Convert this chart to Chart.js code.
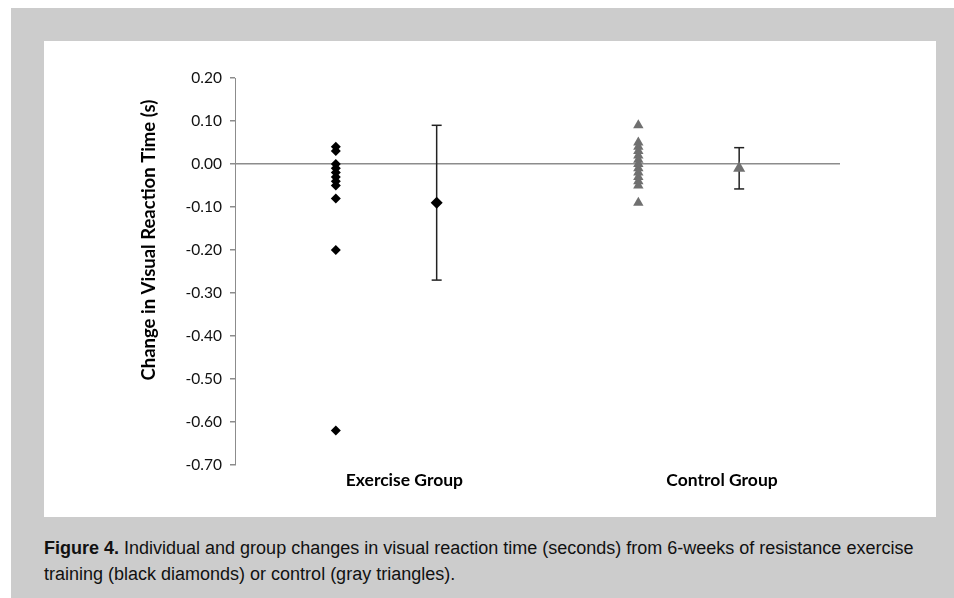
<!DOCTYPE html>
<html>
<head>
<meta charset="utf-8">
<script src="https://cdn.jsdelivr.net/npm/chart.js@4/dist/chart.umd.min.js"></script>
<style>
  html, body { margin: 0; padding: 0; background: #fff; }
  body { width: 954px; height: 598px; position: relative; overflow: hidden; }
  #frame { position: absolute; left: 11px; top: 8px; width: 943px; height: 590px; background: #cccccc; }
  #panel { position: absolute; left: 44px; top: 41px; width: 892px; height: 476px; background: #fff; }
  #grafico { position: absolute; left: 0; top: 0; }
  #legenda {
    position: absolute; left: 44px; top: 535px; width: 905px;
    font-family: "Liberation Sans", Arial, sans-serif;
    font-size: 18px; line-height: 26px; color: #111; white-space: nowrap;
  }
  #legenda b { font-weight: bold; }
</style>
</head>
<body>
<div id="frame"></div>
<div id="panel"><canvas id="grafico" width="892" height="476"></canvas></div>
<div id="legenda"><b>Figure 4.</b> Individual and group changes in visual reaction time (seconds) from 6-weeks of resistance exercise<br>training (black diamonds) or control (gray triangles).</div>
<script>
// valores
const grupos = ['Exercise Group', 'Control Group'];
const posGrupos = [1.68, 4.83];
const xIndividual = [1, 4];
const xMedia = [2, 5];

const exercicio = [0.04, 0.03, 0.00, -0.01, -0.02, -0.03, -0.04, -0.05, -0.08, -0.20, -0.62];
const controle = [0.09, 0.05, 0.04, 0.03, 0.02, 0.01, 0.00, -0.01, -0.02, -0.03, -0.04, -0.05, -0.09];

const medias = [-0.09, -0.01];
const desvios = [0.18, 0.048];

const yTicks = [0.20, 0.10, 0.00, -0.10, -0.20, -0.30, -0.40, -0.50, -0.60, -0.70];
const tituloY = 'Change in Visual Reaction Time (s)';
const tituloYCentro = -0.177; // o título não está centrado no eixo no original

const fonte = 'Lato, "Open Sans", sans-serif';

function pontos(x, vals) {
  return vals.map(v => ({ x, y: v }));
}

function barraErro(i, cor) {
  return {
    type: 'scatter',
    data: [{ x: xMedia[i], y: medias[i] + desvios[i] }, { x: xMedia[i], y: medias[i] - desvios[i] }],
    showLine: true,
    borderColor: cor,
    borderWidth: 1.5,
    pointStyle: 'line',
    pointRadius: 5,
    pointBorderColor: cor,
    pointBorderWidth: 1.5,
    order: 10,
  };
}

// desenha o título do eixo y na posição do original
const pluginTituloY = {
  id: 'tituloY',
  afterDraw(chart) {
    const y = chart.scales.y;
    const ctx = chart.ctx;
    ctx.save();
    ctx.translate(y.left + 14, y.getPixelForValue(tituloYCentro));
    ctx.rotate(-Math.PI / 2);
    ctx.font = `bold 18.5px ${fonte}`;
    ctx.fillStyle = '#000';
    ctx.textAlign = 'center';
    ctx.textBaseline = 'middle';
    ctx.fillText(tituloY, 0, 0);
    ctx.restore();
  },
};

new Chart(document.getElementById('grafico').getContext('2d'), {
  type: 'scatter',
  data: {
    datasets: [
      {
        label: 'Exercise',
        data: pontos(xIndividual[0], exercicio),
        pointStyle: 'rectRot',
        pointRadius: 5,
        backgroundColor: '#000',
        borderColor: '#000',
        borderWidth: 0,
        order: 1,
      },
      {
        label: 'Control',
        data: pontos(xIndividual[1], controle),
        pointStyle: 'triangle',
        pointRadius: 6,
        backgroundColor: '#707070',
        borderColor: '#707070',
        borderWidth: 0,
        order: 1,
      },
      {
        label: 'Exercise mean',
        data: [{ x: xMedia[0], y: medias[0] }],
        pointStyle: 'rectRot',
        pointRadius: 6,
        backgroundColor: '#000',
        borderColor: '#000',
        borderWidth: 0,
        order: 1,
      },
      {
        label: 'Control mean',
        data: [{ x: xMedia[1], y: medias[1] }],
        pointStyle: 'triangle',
        pointRadius: 7,
        backgroundColor: '#707070',
        borderColor: '#707070',
        borderWidth: 0,
        order: 1,
      },
      barraErro(0, '#222'),
      barraErro(1, '#222'),
    ],
  },
  options: {
    responsive: false,
    animation: false,
    layout: { padding: { left: 91, right: 96, top: 37, bottom: 0 } },
    plugins: { legend: { display: false }, tooltip: { enabled: false } },
    scales: {
      x: {
        type: 'linear',
        min: 0,
        max: 6,
        grid: { display: false, drawTicks: false },
        border: { display: false },
        afterBuildTicks: scale => { scale.ticks = posGrupos.map(v => ({ value: v })); },
        afterFit: scale => { scale.height = 52; },
        ticks: {
          autoSkip: false,
          maxRotation: 0,
          padding: 5,
          color: '#000',
          font: { family: fonte, size: 17.5, weight: 'bold' },
          callback: (v, idx) => grupos[idx],
        },
      },
      y: {
        min: -0.7,
        max: 0.2,
        afterBuildTicks: scale => { scale.ticks = yTicks.map(v => ({ value: v })); },
        afterFit: scale => { scale.width = 100; },
        border: { display: true, color: '#8c8c8c', width: 1 },
        grid: {
          drawTicks: true,
          tickLength: 5,
          tickColor: '#8c8c8c',
          color: ctx => (ctx.tick && Math.abs(ctx.tick.value) < 1e-9 ? '#8c8c8c' : 'rgba(0,0,0,0)'),
          lineWidth: 1.5,
        },
        ticks: {
          padding: 8,
          color: '#111',
          font: { family: fonte, size: 15.5 },
          callback: v => v.toFixed(2),
        },
      },
    },
  },
  plugins: [pluginTituloY],
});
</script>
</body>
</html>
